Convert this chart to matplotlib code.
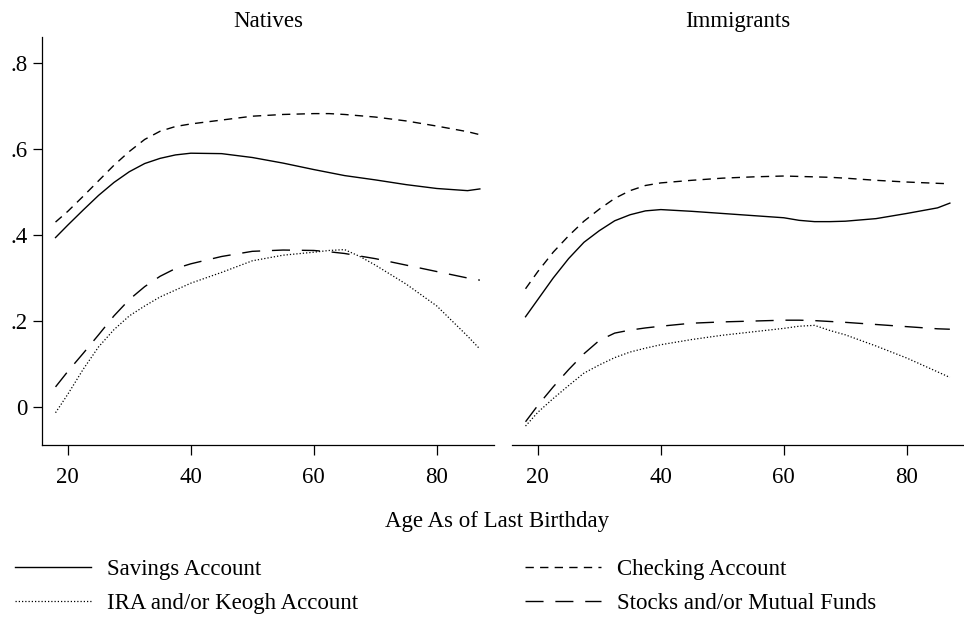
import numpy as np
import matplotlib.pyplot as plt

plt.rcParams['font.family'] = ['Liberation Serif', 'DejaVu Serif']

# edades
ages = [18, 20, 22.5, 25, 27.5, 30, 32.5, 35, 37.5, 40, 45, 50, 55, 60, 62.5, 65, 67.5, 70, 75, 80, 85, 87]

# Natives
sav_nat = [0.394, 0.423, 0.458, 0.492, 0.522, 0.547, 0.566, 0.578, 0.586, 0.590, 0.589, 0.580, 0.567, 0.552, 0.545, 0.538, 0.533, 0.528, 0.517, 0.508, 0.503, 0.507]
chk_nat = [0.430, 0.455, 0.490, 0.526, 0.562, 0.594, 0.622, 0.641, 0.652, 0.658, 0.667, 0.676, 0.680, 0.682, 0.682, 0.680, 0.677, 0.674, 0.665, 0.653, 0.640, 0.633]
stk_nat = [0.047, 0.083, 0.125, 0.168, 0.212, 0.250, 0.280, 0.304, 0.322, 0.333, 0.350, 0.362, 0.365, 0.364, 0.361, 0.357, 0.351, 0.345, 0.330, 0.315, 0.300, 0.295]
ira_nat = [-0.013, 0.030, 0.088, 0.140, 0.180, 0.212, 0.235, 0.256, 0.272, 0.288, 0.313, 0.340, 0.353, 0.360, 0.364, 0.366, 0.350, 0.330, 0.286, 0.235, 0.165, 0.135]

# Immigrants
sav_imm = [0.210, 0.250, 0.300, 0.345, 0.383, 0.410, 0.433, 0.447, 0.456, 0.459, 0.455, 0.450, 0.445, 0.440, 0.434, 0.431, 0.431, 0.432, 0.438, 0.450, 0.463, 0.474]
chk_imm = [0.275, 0.315, 0.360, 0.398, 0.432, 0.460, 0.485, 0.503, 0.515, 0.521, 0.527, 0.532, 0.535, 0.537, 0.536, 0.535, 0.534, 0.532, 0.527, 0.523, 0.520, 0.519]
stk_imm = [-0.034, 0.004, 0.047, 0.087, 0.124, 0.155, 0.172, 0.179, 0.184, 0.188, 0.195, 0.198, 0.200, 0.202, 0.202, 0.201, 0.199, 0.197, 0.192, 0.187, 0.182, 0.181]
ira_imm = [-0.044, -0.012, 0.020, 0.050, 0.079, 0.098, 0.115, 0.128, 0.137, 0.145, 0.157, 0.167, 0.175, 0.183, 0.188, 0.190, 0.178, 0.168, 0.142, 0.114, 0.082, 0.069]

labels = ['Savings Account', 'Checking Account', 'IRA and/or Keogh Account', 'Stocks and/or Mutual Funds']
xticks = [20, 40, 60, 80]
yticks = [0, 0.2, 0.4, 0.6, 0.8]
ytick_labels = ['0', '.2', '.4', '.6', '.8']

fs = 16.5
fig = plt.figure(figsize=(9.64, 6.17), dpi=100)
ax1 = fig.add_axes([42/964, 1-445/617, 452/964, 408/617])
ax2 = fig.add_axes([512/964, 1-445/617, 452/964, 408/617])

lw = 1.0
for ax, sav, chk, stk, ira, title in [(ax1, sav_nat, chk_nat, stk_nat, ira_nat, 'Natives'),
                                      (ax2, sav_imm, chk_imm, stk_imm, ira_imm, 'Immigrants')]:
    l1, = ax.plot(ages, sav, color='black', lw=lw, ls='-')
    l2, = ax.plot(ages, chk, color='black', lw=lw, dashes=(6, 4.5))
    l3, = ax.plot(ages, ira, color='black', lw=0.9, dashes=(1, 1.6))
    l4, = ax.plot(ages, stk, color='black', lw=lw, dashes=(13, 8.5))
    ax.set_xlim(15.8, 89.3)
    ax.set_ylim(-0.088, 0.86)
    ax.set_xticks(xticks)
    ax.set_title(title, fontsize=fs, pad=7)
    for s in ['top', 'right']:
        ax.spines[s].set_visible(False)
    ax.tick_params(axis='x', direction='out', length=7, width=0.9, labelsize=fs, pad=9)
    ax.tick_params(axis='y', direction='out', length=6.5, width=0.9, labelsize=fs, pad=4)
    ax.spines['bottom'].set_linewidth(0.9)
    ax.spines['left'].set_linewidth(0.9)

ax1.set_yticks(yticks)
ax1.set_yticklabels(ytick_labels)
ax2.spines['left'].set_visible(False)
ax2.set_yticks([])

fig.text(497/964, 1-522/617, 'Age As of Last Birthday', ha='center', va='center', fontsize=fs)

legopts = dict(loc='upper left', frameon=False, fontsize=fs, handlelength=3.3,
               handletextpad=0.7, labelspacing=0.55, borderpad=0, borderaxespad=0)
leg1 = fig.legend([l1, l3], [labels[0], labels[2]], bbox_to_anchor=(15/964, 1-559/617), **legopts)
leg2 = fig.legend([l2, l4], [labels[1], labels[3]], bbox_to_anchor=(525/964, 1-559/617), **legopts)

fig.savefig('out.png', dpi=100)
